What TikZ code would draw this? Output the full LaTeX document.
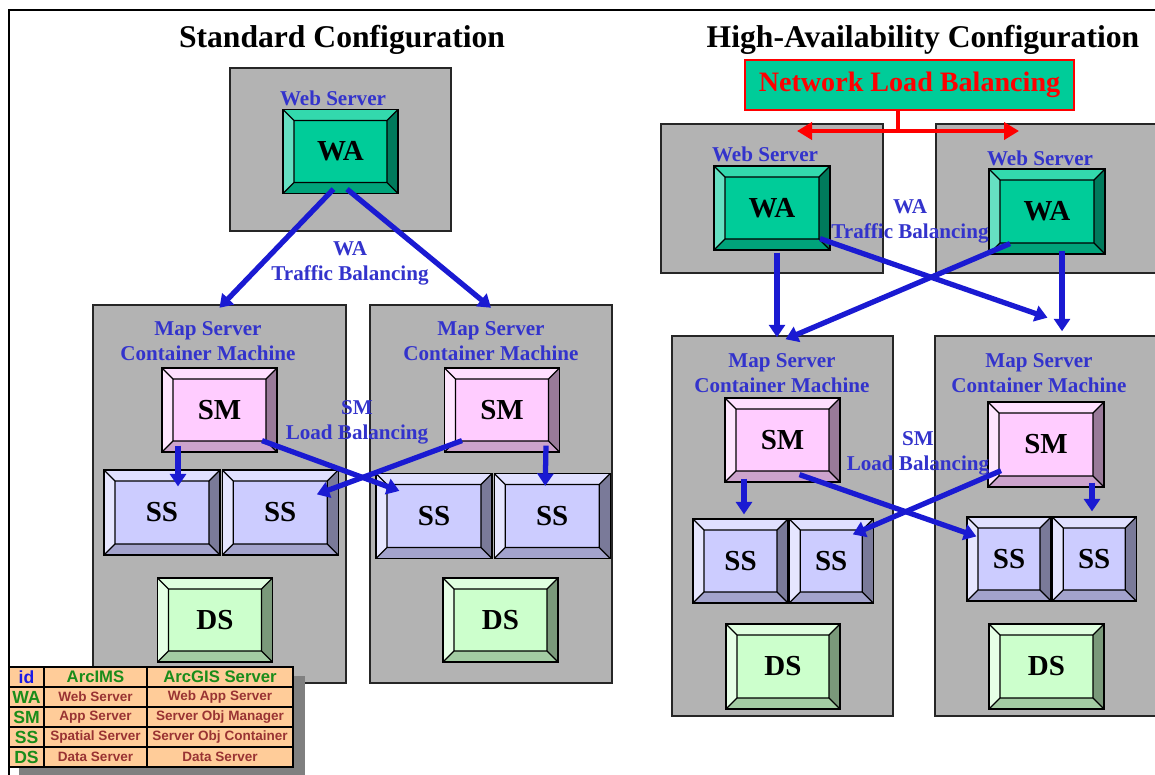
\documentclass[tikz,border=0pt]{standalone}
\usepackage{fontspec}
\setmainfont{Liberation Serif}
\newfontfamily\legendfont{Liberation Sans}
\usepackage{xcolor}
\usepackage{tikz}
\usetikzlibrary{arrows.meta, positioning, calc}

\definecolor{boxgray}{HTML}{B3B3B3}
\definecolor{labelblue}{HTML}{3333CC}
\definecolor{arrowblue}{HTML}{1A1AD2}
\definecolor{wa}{HTML}{00CC99}
\definecolor{watop}{HTML}{33D9AD}
\definecolor{waleft}{HTML}{66E0C2}
\definecolor{waright}{HTML}{007A5C}
\definecolor{wabot}{HTML}{00A37A}
\definecolor{sm}{HTML}{FFCCFF}
\definecolor{smtop}{HTML}{FFE0FF}
\definecolor{smleft}{HTML}{FFE6FF}
\definecolor{smright}{HTML}{997A99}
\definecolor{smbot}{HTML}{CCA3CC}
\definecolor{ss}{HTML}{CCCCFF}
\definecolor{sstop}{HTML}{E0E0FF}
\definecolor{ssleft}{HTML}{E6E6FF}
\definecolor{ssright}{HTML}{7A7A99}
\definecolor{ssbot}{HTML}{A3A3CC}
\definecolor{ds}{HTML}{CCFFCC}
\definecolor{dstop}{HTML}{E0FFE0}
\definecolor{dsleft}{HTML}{E6FFE6}
\definecolor{dsright}{HTML}{7A997A}
\definecolor{dsbot}{HTML}{A3CCA3}
\definecolor{legendpeach}{HTML}{FFCC99}
\definecolor{legendgreen}{HTML}{1A8C1A}
\definecolor{legendred}{HTML}{993333}
\definecolor{idblue}{HTML}{1A1AE6}
\definecolor{shadowgray}{HTML}{808080}

% raised faces of a server box
\newcommand{\bevelfaces}[1]{%
  \path (path picture bounding box.north west) coordinate (o1)
        (path picture bounding box.north east) coordinate (o2)
        (path picture bounding box.south east) coordinate (o3)
        (path picture bounding box.south west) coordinate (o4);
  \path ([shift={(.22cm,-.22cm)}]o1) coordinate (i1)
        ([shift={(-.22cm,-.22cm)}]o2) coordinate (i2)
        ([shift={(-.22cm,.22cm)}]o3) coordinate (i3)
        ([shift={(.22cm,.22cm)}]o4) coordinate (i4);
  \fill[#1top] (o1) -- (o2) -- (i2) -- (i1) -- cycle;
  \fill[#1right] (o2) -- (o3) -- (i3) -- (i2) -- cycle;
  \fill[#1bot] (o3) -- (o4) -- (i4) -- (i3) -- cycle;
  \fill[#1left] (o4) -- (o1) -- (i1) -- (i4) -- cycle;
  \draw[line width=.7pt] (i1) rectangle (i3) (o1) -- (i1) (o2) -- (i2) (o3) -- (i3) (o4) -- (i4);
}

\begin{document}
\begin{tikzpicture}[
		x=0.02cm, y=-0.02cm,
		title/.style={font=\fontsize{18}{21}\selectfont\bfseries},
		graybox/.style={rectangle, draw=black!85, line width=.9pt, fill=boxgray, inner sep=0pt},
		bluelabel/.style={text=labelblue, font=\fontsize{12}{14.2}\selectfont\bfseries, align=center, inner sep=0pt},
		bevelbox/.style={rectangle, draw=black, line width=.7pt, fill=#1, inner sep=0pt, minimum width=2.3cm, minimum height=1.68cm, font=\fontsize{16.5}{18}\selectfont\bfseries, path picture={\bevelfaces{#1}}},
		lbarrow/.style={draw=arrowblue, line width=3pt, -{Triangle[length=.25cm, width=.32cm]}},
		nlbbox/.style={rectangle, draw=red, line width=1pt, fill=wa, text=red, minimum width=6.58cm, minimum height=1cm, font=\fontsize{16}{18}\selectfont\bfseries},
		nlbline/.style={draw=red, line width=2.6pt},
		nlbarrow/.style={draw=red, line width=2.6pt, {Triangle[length=.3cm, width=.34cm]}-{Triangle[length=.3cm, width=.34cm]}},
		cell/.style={rectangle, draw=black, line width=1pt, fill=legendpeach, inner sep=0pt, minimum height=0.4cm, text=legendred, font={\legendfont\bfseries\fontsize{7.7}{9}\selectfont}},
		idcol/.style={cell, minimum width=0.7cm, text=legendgreen, font={\legendfont\bfseries\fontsize{10}{12}\selectfont}},
		imscol/.style={cell, minimum width=2.06cm},
		giscol/.style={cell, minimum width=2.92cm},
		headcell/.style={text=legendgreen, font={\legendfont\bfseries\fontsize{9.5}{11}\selectfont}}
		]
		
		\useasboundingbox (0,0) rectangle (1155,774);
		\fill[white] (0,0) rectangle (1155,774);
		\draw[line width=1.3pt] (9,780) |- (1160,10);
		
		% Titles
		\node[title] (tstd) at (342,40) {Standard Configuration};
		\node[title] (tha) at (923,40) {High-Availability Configuration};
		
		% Standard configuration
		\node[graybox, minimum width=4.42cm, minimum height=3.26cm] (ws0) at (340.5,149.5) {};
		\node[bluelabel] (lws0) at (333,98) {Web Server};
		\node[bevelbox=wa] (wa0) at (340.5,151.5) {WA};
		
		\node[graybox, minimum width=5.06cm, minimum height=7.56cm] (mc1) at (219.5,494) {};
		\node[graybox, minimum width=4.84cm, minimum height=7.56cm] (mc2) at (491,494) {};
		\node[bluelabel] (lmc1) at (208,341) {Map Server\\Container Machine};
		\node[bluelabel] (lmc2) at (491,341) {Map Server\\Container Machine};
		
		\node[bevelbox=sm] (sm1) at (219.5,410) {SM};
		\node[bevelbox=ss, minimum width=2.32cm, minimum height=1.7cm] (ss1a) at (162,512.5) {SS};
		\node[bevelbox=ss, minimum width=2.32cm, minimum height=1.7cm, right=0.02cm of ss1a] (ss1b) {SS};
		\node[bevelbox=ds] (ds1) at (215,620) {DS};
		
		\node[bevelbox=sm] (sm2) at (502,410) {SM};
		\node[bevelbox=ss, minimum width=2.32cm, minimum height=1.7cm] (ss2a) at (434,516) {SS};
		\node[bevelbox=ss, minimum width=2.32cm, minimum height=1.7cm, right=0.02cm of ss2a] (ss2b) {SS};
		\node[bevelbox=ds] (ds2) at (500.5,620) {DS};
		
		% WA and SM balancing, standard
		\draw[lbarrow] ([shift={(-7,-5)}]wa0.south) -- ([yshift=-2]mc1.north);
		\draw[lbarrow] ([shift={(6.5,-5)}]wa0.south) -- ([yshift=-2]mc2.north);
		\draw[lbarrow] ([shift={(-41.5,-7)}]sm1.south) -- ([shift={(16,17)}]ss1a.north);
		\draw[lbarrow] ([shift={(42.5,-12)}]sm1.south) -- ([shift={(24,18)}]ss2a.north west);
		\draw[lbarrow] ([shift={(-40,-12)}]sm2.south) -- ([shift={(-22,25)}]ss1b.north east);
		\draw[lbarrow] ([shift={(44,-7)}]sm2.south) -- ([shift={(-7,13)}]ss2b.north);
		
		\node[bluelabel] (lwa0) at (350,263) {WA\\Traffic Balancing};
		\node[bluelabel] (lsm0) at (357,422) {SM\\Load Balancing};
		
		% High-availability configuration
		\node[graybox, minimum width=4.44cm, minimum height=2.98cm] (ws1) at (772,198.5) {};
		\node[graybox, minimum width=4.48cm, minimum height=2.98cm] (ws2) at (1048,198.5) {};
		
		\coordinate (nlbl) at (797,131);
		\coordinate (nlbr) at (1019,131);
		\node[nlbbox] (nlb) at (909.5,85) {Network Load Balancing};
		\draw[nlbline] ([xshift=-6.5]nlb.south) -- ([xshift=-6.5]nlb.south |- nlbl);
		\draw[nlbarrow] (nlbl) -- (nlbr);
		
		\node[bluelabel] (lws1) at (765,154) {Web Server};
		\node[bluelabel] (lws2) at (1040,158) {Web Server};
		\node[bevelbox=wa, minimum width=2.32cm] (wa1) at (772,208) {WA};
		\node[bevelbox=wa, minimum width=2.32cm, minimum height=1.7cm] (wa2) at (1047,211.5) {WA};
		
		\node[graybox, minimum width=4.42cm, minimum height=7.6cm] (mc3) at (782.5,526) {};
		\node[graybox, minimum width=4.5cm, minimum height=7.6cm] (mc4) at (1047.5,526) {};
		\node[bluelabel] (lmc3) at (782,373) {Map Server\\Container Machine};
		\node[bluelabel] (lmc4) at (1039,373) {Map Server\\Container Machine};
		
		\node[bevelbox=sm] (sm3) at (782.5,440) {SM};
		\node[bevelbox=sm, minimum width=2.32cm, minimum height=1.7cm] (sm4) at (1046,444.5) {SM};
		\node[bevelbox=ss, minimum width=1.9cm] (ss3a) at (740.5,561) {SS};
		\node[bevelbox=ss, minimum width=1.68cm, right=0cm of ss3a] (ss3b) {SS};
		\node[bevelbox=ss, minimum width=1.68cm] (ss4a) at (1009,559) {SS};
		\node[bevelbox=ss, minimum width=1.68cm, right=0cm of ss4a] (ss4b) {SS};
		\node[bevelbox=ds, minimum width=2.28cm, minimum height=1.7cm] (ds3) at (783,666.5) {DS};
		\node[bevelbox=ds, minimum width=2.3cm, minimum height=1.7cm] (ds4) at (1046.5,666.5) {DS};
		
		% WA and SM balancing, high availability
		\draw[lbarrow] ([shift={(5,2)}]wa1.south) -- ([shift={(5,2)}]wa1.south |- mc3.north);
		\draw[lbarrow] ([shift={(48,-12)}]wa1.south) -- ([yshift=10]mc4.north);
		\draw[lbarrow] ([shift={(-37,-11)}]wa2.south) -- ([shift={(3,4)}]mc3.north);
		\draw[lbarrow] ([shift={(15,-4)}]wa2.south) -- ([shift={(15,-4)}]wa2.south |- mc4.north);
		\draw[lbarrow] ([shift={(-38.5,-4)}]sm3.south) -- ([shift={(-38.5,-4)}]sm3.south |- ss3a.north);
		\draw[lbarrow] ([shift={(17,-8)}]sm3.south) -- ([shift={(10,20)}]ss4a.north west);
		\draw[lbarrow] ([shift={(-45,-17)}]sm4.south) -- ([shift={(-21,16)}]ss3b.north east);
		\draw[lbarrow] ([shift={(46,-5)}]sm4.south) -- ([shift={(46,-5)}]sm4.south |- ss4b.north);
		
		\node[bluelabel] (lwa1) at (910,221) {WA\\Traffic Balancing};
		\node[bluelabel] (lsm1) at (918,453) {SM\\Load Balancing};
		
		% Legend
		\fill[shadowgray] (19,676) rectangle (305,790);
		\node[idcol, text=idblue] (hid) at (26.5,677) {id};
		\node[imscol, headcell] (hims) at (95.5,677) {ArcIMS};
		\node[giscol, headcell] (hgis) at (220,677) {ArcGIS Server};
		\foreach \idn/\ims/\gis [count=\k] in {WA/Web Server/Web App Server, SM/App Server/Server Obj Manager, SS/Spatial Server/Server Obj Container, DS/Data Server/Data Server}{
			\node[idcol] (id\k) at (26.5,{677+20*\k}) {\idn};
			\node[imscol] (ims\k) at (95.5,{677+20*\k}) {\ims};
			\node[giscol] (gis\k) at (220,{677+20*\k}) {\gis};
		}
		
	\end{tikzpicture}
\end{document}
